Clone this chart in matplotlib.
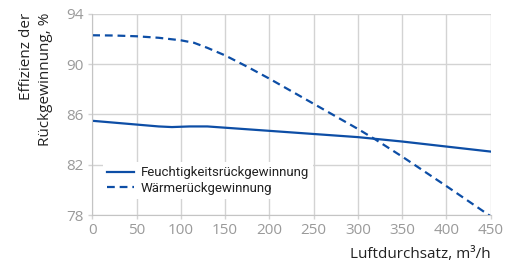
import matplotlib
matplotlib.use("Agg")
import matplotlib.pyplot as plt

x_feucht = [0, 25, 50, 75, 90, 110, 130, 150, 200, 250, 300, 350, 400, 450]
y_feucht = [85.5, 85.35, 85.2, 85.05, 85.0, 85.05, 85.05, 84.95, 84.7, 84.45, 84.2, 83.85, 83.45, 83.05]

x_waerme = [0, 25, 50, 75, 100, 115, 130, 150, 175, 200, 250, 300, 320, 350, 400, 450]
y_waerme = [92.3, 92.28, 92.22, 92.1, 91.9, 91.7, 91.3, 90.7, 89.8, 88.85, 86.85, 84.85, 84.0, 82.65, 80.3, 77.9]

xticks = [0, 50, 100, 150, 200, 250, 300, 350, 400, 450]
yticks = [78, 82, 86, 90, 94]

color = "#0d4ea6"
grid_c = "#d3d3d3"
tick_c = "#9a9a9a"
text_c = "#222222"

plt.rcParams['font.family'] = ['Roboto', 'DejaVu Sans']
tick_font = ['Open Sans', 'DejaVu Sans']

fig = plt.figure(figsize=(5.21, 2.62), dpi=100)
ax = fig.add_axes([0.177, 0.179, 0.765, 0.768])

ax.plot(x_feucht, y_feucht, color=color, lw=1.6, label="Feuchtigkeitsrückgewinnung")
ax.plot(x_waerme, y_waerme, color=color, lw=1.6, ls=(0, (3.5, 2.2)), label="Wärmerückgewinnung")

ax.set_xlim(0, 450)
ax.set_ylim(78, 94)
ax.set_xticks(xticks)
ax.set_yticks(yticks)
ax.grid(True, color=grid_c, lw=1.0)
ax.set_axisbelow(True)
for s in ["top", "right"]:
    ax.spines[s].set_visible(False)
for s in ["left", "bottom"]:
    ax.spines[s].set_color("#c4c4c4")
ax.tick_params(axis="both", colors=grid_c, labelcolor=tick_c, labelsize=11, length=3, width=1)
ax.tick_params(axis="y", pad=3)
ax.tick_params(axis="x", pad=3)
for lab in ax.get_xticklabels() + ax.get_yticklabels():
    lab.set_family(tick_font)

fig.text(0.069, 0.950, "Effizienz der\nRückgewinnung, %", rotation=90, ha="center", va="top",
         multialignment="right", fontsize=11, color=text_c, family=tick_font, linespacing=1.3)
ax.set_xlabel("Luftdurchsatz, m³/h", fontsize=11, color=text_c, loc="right", labelpad=6,
              family=tick_font)

leg = ax.legend(loc="lower left", bbox_to_anchor=(0.01, 0.045), frameon=True, fancybox=False,
                edgecolor="none", facecolor="white", framealpha=1, fontsize=9.5,
                handlelength=2.0, handletextpad=0.5, borderpad=0.35, labelspacing=0.2)
for t in leg.get_texts():
    t.set_color(text_c)

fig.savefig("out.png", dpi=100)
